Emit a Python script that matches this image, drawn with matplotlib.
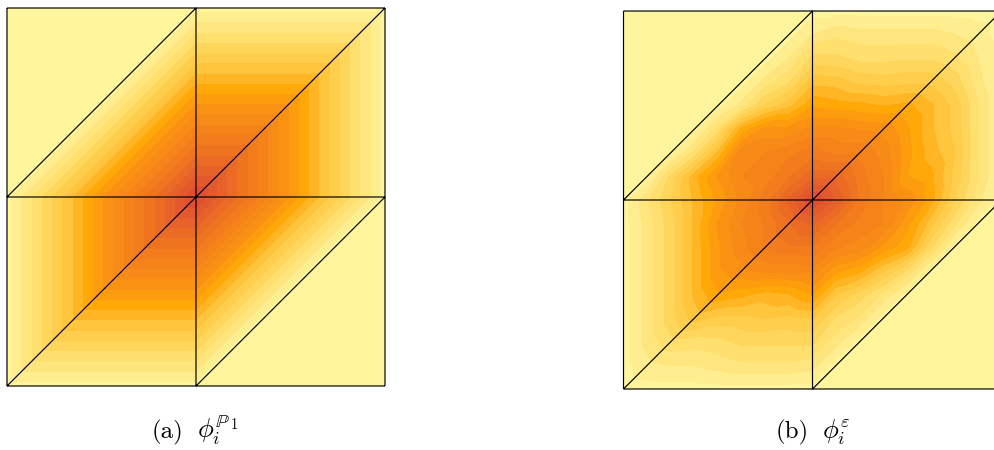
"""Hat function on a small triangular mesh: P1 basis vs multiscale basis."""

import matplotlib

matplotlib.use("Agg")
import matplotlib.pyplot as plt
import numpy as np
from matplotlib.tri import Triangulation

# coarse mesh, 9 nodes on the unit square
NODE_X = [0.0, 0.5, 1.0, 0.0, 0.5, 1.0, 0.0, 0.5, 1.0]
NODE_Y = [0.0, 0.0, 0.0, 0.5, 0.5, 0.5, 1.0, 1.0, 1.0]
NODE_TRI = [[0, 1, 4], [0, 4, 3], [1, 2, 5], [1, 5, 4], [3, 4, 7], [3, 7, 6], [4, 5, 8], [4, 8, 7]]
PHI_P1 = [0.0, 0.0, 0.0, 0.0, 1.0, 0.0, 0.0, 0.0, 0.0]

# multiscale function read on a 17x17 grid, top row first
PHI_EPS = [
    [0, 0, 0, 0, 0, 0, 0, 0, 0, 0, 0, 0, 0, 0, 0, 0, 0],
    [0, 0, 0, 0, 0, 0, 0, 0, .08, .12, .10, .10, .10, .10, .08, .05, 0],
    [0, 0, 0, 0, 0, 0, 0, .08, .20, .20, .17, .17, .18, .18, .15, .08, 0],
    [0, 0, 0, 0, 0, 0, .10, .18, .33, .32, .28, .27, .28, .28, .22, .10, 0],
    [0, 0, 0, 0, 0, .10, .25, .33, .45, .43, .42, .40, .42, .36, .28, .14, 0],
    [0, 0, 0, 0, .16, .42, .53, .53, .58, .58, .56, .55, .47, .36, .28, .14, 0],
    [0, 0, 0, .15, .36, .60, .62, .66, .70, .66, .66, .60, .48, .38, .30, .14, 0],
    [0, 0, .20, .38, .52, .62, .65, .72, .82, .82, .70, .62, .46, .42, .28, .14, 0],
    [0, .12, .24, .36, .47, .58, .70, .85, 1.0, .88, .72, .62, .55, .43, .25, .10, 0],
    [0, .10, .22, .36, .52, .62, .68, .78, .85, .73, .65, .62, .48, .32, .15, 0, 0],
    [0, .10, .22, .36, .50, .60, .68, .72, .72, .63, .60, .50, .42, .20, 0, 0, 0],
    [0, .10, .22, .36, .50, .55, .58, .58, .60, .47, .42, .30, .18, 0, 0, 0, 0],
    [0, .10, .22, .36, .45, .42, .38, .40, .46, .30, .22, .12, 0, 0, 0, 0, 0],
    [0, .10, .22, .32, .28, .28, .30, .28, .30, .18, .12, 0, 0, 0, 0, 0, 0],
    [0, .10, .17, .16, .17, .20, .20, .20, .20, .10, 0, 0, 0, 0, 0, 0, 0],
    [0, .06, .08, .08, .10, .12, .12, .12, .10, 0, 0, 0, 0, 0, 0, 0, 0],
    [0, 0, 0, 0, 0, 0, 0, 0, 0, 0, 0, 0, 0, 0, 0, 0, 0],
]

CAPTION_LABELS = ["(a)", "(b)"]
CAPTION_SYMBOLS = [r"$\phi_i^{\mathbb{P}}$", r"$\phi_i^{\varepsilon}$"]
CAPTION_P_INDEX = "1"

BAND_COLORS = [
    "#fff59d", "#ffee90", "#ffe57e", "#ffdf6d", "#ffd65c", "#ffce4c", "#ffc53c",
    "#ffb524", "#ffa808", "#fd9c0c", "#fa9113", "#f88a18", "#f68319", "#f37c1c",
    "#ef7420", "#eb6b25", "#e7622a", "#e4582d", "#e14f30",
]
LEVELS = np.r_[-1e-3, np.linspace(0.025, 1, 19)]


def fine_triangulation(field: np.ndarray) -> Triangulation:
    n = field.shape[0]
    xs, ys = np.meshgrid(np.linspace(0, 1, n), np.linspace(1, 0, n))
    triangles = []
    for row in range(n - 1):
        for col in range(n - 1):
            top_left = row * n + col
            bot_left = top_left + n
            # same diagonal direction as the coarse mesh
            triangles.append([bot_left, bot_left + 1, top_left + 1])
            triangles.append([bot_left, top_left + 1, top_left])
    return Triangulation(xs.ravel(), ys.ravel(), triangles)


def draw_panel(fig, rect, tri, values, mesh) -> None:
    ax = fig.add_axes(rect)
    ax.tricontourf(tri, values, levels=LEVELS, colors=BAND_COLORS)
    for line in ax.triplot(mesh, color="black", lw=0.85):
        line.set_clip_on(False)
        line.set_solid_capstyle("butt")
    ax.set_xlim(0, 1)
    ax.set_ylim(0, 1)
    ax.axis("off")


def main() -> None:
    plt.rcParams["mathtext.fontset"] = "cm"
    plt.rcParams["font.family"] = ["cmr10", "DejaVu Serif"]
    plt.rcParams["axes.formatter.use_mathtext"] = True

    fig = plt.figure(figsize=(9.95, 4.5), dpi=100)
    mesh = Triangulation(NODE_X, NODE_Y, NODE_TRI)
    field = np.array(PHI_EPS, dtype=float)

    draw_panel(fig, [7 / 995, 64 / 450, 378 / 995, 378 / 450], mesh, np.array(PHI_P1), mesh)
    draw_panel(fig, [623.5 / 995, 61 / 450, 378 / 995, 378 / 450], fine_triangulation(field), field.ravel(), mesh)

    base = 1 - 438 / 450
    fig.text(152 / 995, base, CAPTION_LABELS[0], va="baseline", fontsize=18)
    fig.text(197 / 995, base, CAPTION_SYMBOLS[0], va="baseline", fontsize=19)
    fig.text(231 / 995, 1 - 429 / 450, CAPTION_P_INDEX, va="baseline", fontsize=10.5)
    fig.text(776 / 995, base, CAPTION_LABELS[1], va="baseline", fontsize=18)
    fig.text(822 / 995, base, CAPTION_SYMBOLS[1], va="baseline", fontsize=19)

    fig.savefig("out.png", dpi=100)
    plt.close(fig)


if __name__ == "__main__":
    main()
